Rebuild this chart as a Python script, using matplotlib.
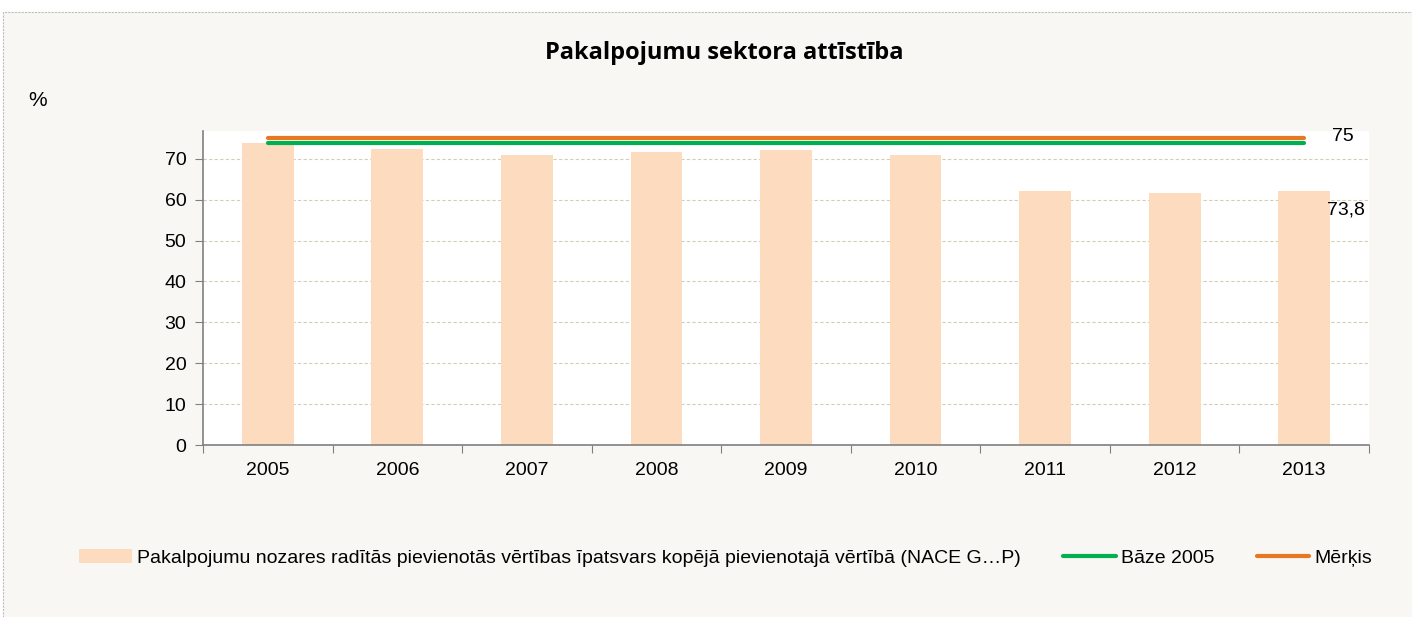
import matplotlib.pyplot as plt
from matplotlib.patches import Rectangle

# Data
years = ["2005", "2006", "2007", "2008", "2009", "2010", "2011", "2012", "2013"]
share = [73.8, 72.5, 71.0, 71.7, 72.2, 71.0, 62.2, 61.7, 62.2]
base_2005 = [73.8] * len(years)
target = [75] * len(years)
y_ticks = [0, 10, 20, 30, 40, 50, 60, 70]

bar_label = "Pakalpojumu nozares radītās pievienotās vērtības īpatsvars kopējā pievienotajā vērtībā (NACE G…P)"
base_label = "Bāze 2005"
target_label = "Mērķis"

plt.rcParams["font.family"] = ["Liberation Sans", "DejaVu Sans"]

fig = plt.figure(figsize=(14.12, 6.17), dpi=100, facecolor="white")
# chart area background with dashed border
bg = Rectangle((3 / 1412, -0.01), 1.1, 1 - 12 / 617 + 0.01, transform=fig.transFigure,
               facecolor="#F8F7F3", edgecolor="#BDBDBD", linestyle=(0, (2, 1)), linewidth=0.8, zorder=-10)
fig.patches.append(bg)

ax = fig.add_axes([203 / 1412, 1 - 445 / 617, (1369 - 203) / 1412, (445 - 131) / 617])
ax.set_facecolor("white")

x = list(range(len(years)))
bars = ax.bar(x, share, width=0.4, color="#FCDBBE", label=bar_label, zorder=2)
l_base, = ax.plot(x, base_2005, color="#00B050", linewidth=3, solid_capstyle="round", label=base_label, zorder=3)
l_target, = ax.plot(x, target, color="#E87722", linewidth=3, solid_capstyle="round", label=target_label, zorder=3)

ax.text(8.3, 75.4, "75", fontsize=14, ha="center", va="center")
ax.text(8.32, 57.5, "73,8", fontsize=14, ha="center", va="center")

ax.set_xlim(-0.5, 8.5)
ax.set_ylim(0, 76.8)
ax.set_yticks(y_ticks)
ax.yaxis.grid(True, color="#D5CDB5", linestyle=(0, (3, 2)), linewidth=0.8)
ax.set_axisbelow(True)

# x ticks between categories, labels at centres
ax.set_xticks([i - 0.5 for i in range(len(years) + 1)])
ax.set_xticklabels([])
ax.set_xticks(x, minor=True)
ax.set_xticklabels(years, minor=True)
ax.tick_params(axis="x", which="major", length=6, color="#808080", direction="out")
ax.tick_params(axis="x", which="minor", length=0, labelsize=14, pad=12)
ax.tick_params(axis="y", length=6, color="#808080", labelsize=14, pad=6)

for s in ["top", "right"]:
    ax.spines[s].set_visible(False)
for s in ["left", "bottom"]:
    ax.spines[s].set_color("#808080")
    ax.spines[s].set_linewidth(1.2)

fig.text(724 / 1412, 1 - 53 / 617, "Pakalpojumu sektora attīstība", fontsize=17, fontweight="bold",
         ha="center", va="center", family=["Open Sans", "DejaVu Sans"])
fig.text(28 / 1412, 1 - 100 / 617, "%", fontsize=15, ha="left", va="center")

fig.legend([bars, l_base, l_target], [bar_label, base_label, target_label],
           loc="center", bbox_to_anchor=(0.514, 1 - 558 / 617), ncol=3, frameon=False,
           fontsize=14, handlelength=2.7, handletextpad=0.25, columnspacing=2.2)

fig.savefig("out.png", dpi=100, facecolor=fig.get_facecolor())
